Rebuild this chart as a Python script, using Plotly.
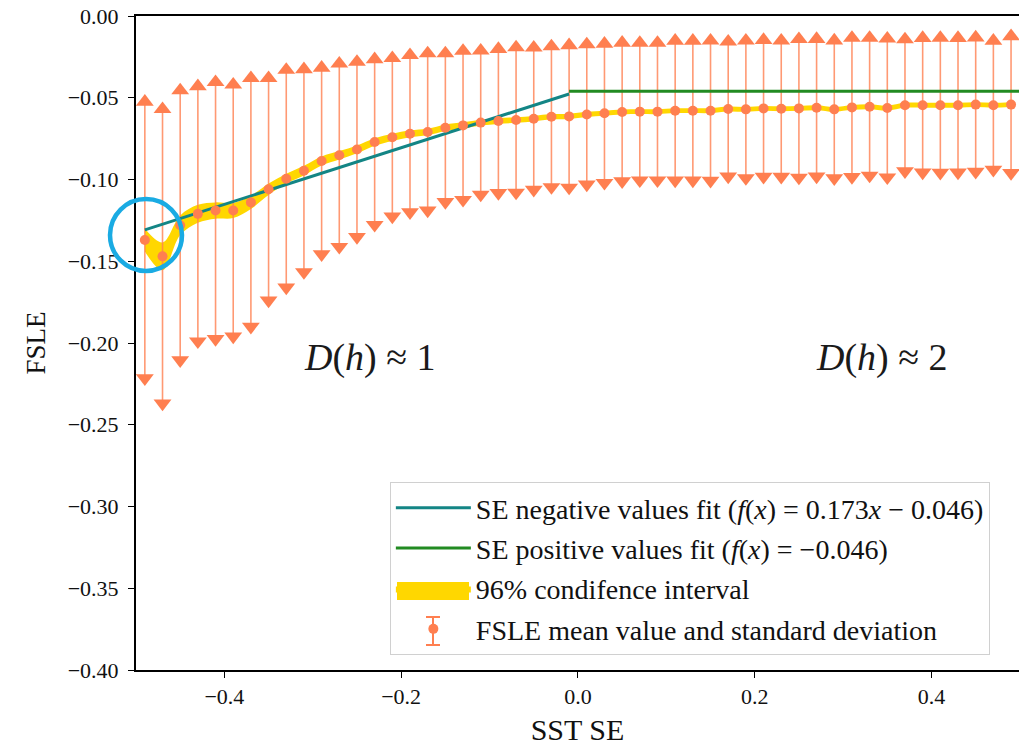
import plotly.graph_objects as go

# ---------------- data ----------------
sst_se = [-0.49, -0.47, -0.45, -0.43, -0.41, -0.39, -0.37, -0.35, -0.33, -0.31,
          -0.29, -0.27, -0.25, -0.23, -0.21, -0.19, -0.17, -0.15, -0.13, -0.11,
          -0.09, -0.07, -0.05, -0.03, -0.01, 0.01, 0.03, 0.05, 0.07, 0.09,
          0.11, 0.13, 0.15, 0.17, 0.19, 0.21, 0.23, 0.25, 0.27, 0.29,
          0.31, 0.33, 0.35, 0.37, 0.39, 0.41, 0.43, 0.45, 0.47, 0.49]

fsle_mean = [-0.137, -0.147, -0.128, -0.121, -0.119, -0.119, -0.114, -0.106, -0.0995, -0.0946,
             -0.0887, -0.0852, -0.0816, -0.0771, -0.0742, -0.0720, -0.0709, -0.0683, -0.0669, -0.0652,
             -0.0642, -0.0636, -0.0628, -0.0616, -0.0614, -0.0602, -0.0595, -0.0587, -0.0585, -0.0585,
             -0.0579, -0.0579, -0.0579, -0.0569, -0.0571, -0.0565, -0.0567, -0.0565, -0.0561, -0.0571,
             -0.0559, -0.0555, -0.0563, -0.0546, -0.0546, -0.0546, -0.0546, -0.0542, -0.0546, -0.0542]

fsle_std = [0.0845, 0.090, 0.0825, 0.078, 0.0785, 0.077, 0.076, 0.068, 0.0665, 0.062,
            0.057, 0.056, 0.0535, 0.0506, 0.0484, 0.048, 0.048, 0.0454, 0.0455, 0.044,
            0.044, 0.0444, 0.0434, 0.043, 0.0435, 0.0428, 0.0425, 0.0423, 0.042, 0.042,
            0.0427, 0.0427, 0.0428, 0.0412, 0.042, 0.0418, 0.0416, 0.0423, 0.042, 0.0421,
            0.0425, 0.0421, 0.0424, 0.0403, 0.0411, 0.0412, 0.0411, 0.041, 0.0394, 0.0418]

ci_half = [0.007, 0.0085, 0.006, 0.0055, 0.005, 0.0046, 0.004, 0.0035, 0.003, 0.003,
           0.0028, 0.0026, 0.0024, 0.0023, 0.0022, 0.0021, 0.002, 0.002, 0.0019, 0.0018,
           0.0018, 0.0017, 0.0017, 0.0016, 0.0016, 0.0016, 0.0015, 0.0015, 0.0015, 0.0015,
           0.0015, 0.0015, 0.0015, 0.0015, 0.0015, 0.0015, 0.0015, 0.0015, 0.0015, 0.0015,
           0.0015, 0.0015, 0.0015, 0.0015, 0.0015, 0.0015, 0.0015, 0.0015, 0.0015, 0.0015]

neg_fit_x = [-0.49, -0.01]
neg_fit_y = [-0.1308, -0.0477]
pos_fit_x = [-0.01, 0.50]
pos_fit_y = [-0.046, -0.046]

x_ticks = [-0.4, -0.2, 0.0, 0.2, 0.4]
y_ticks = [0.0, -0.05, -0.10, -0.15, -0.20, -0.25, -0.30, -0.35, -0.40]

CORAL = "#FF7F50"
TEAL = "#138585"
GREEN = "#228B22"
GOLD = "#FFD700"
FONT = "Liberation Serif"

upper = [m + s for m, s in zip(fsle_mean, fsle_std)]
lower = [m - s for m, s in zip(fsle_mean, fsle_std)]
ci_up = [m + c for m, c in zip(fsle_mean, ci_half)]
ci_lo = [m - c for m, c in zip(fsle_mean, ci_half)]

fig = go.Figure()

# confidence band
fig.add_trace(go.Scatter(x=sst_se, y=ci_up, mode="lines", line=dict(width=0, color=GOLD),
                         line_shape="spline", showlegend=False, legendgroup="c", hoverinfo="skip"))
fig.add_trace(go.Scatter(x=sst_se, y=ci_lo, mode="lines", line=dict(width=0, color=GOLD),
                         line_shape="spline", fill="tonexty", fillcolor=GOLD,
                         name="96% condifence interval", legendgroup="c", legendrank=3))

# error bars
fig.add_trace(go.Scatter(x=sst_se, y=fsle_mean, mode="markers", marker=dict(size=0.1, color=CORAL),
                         error_y=dict(type="data", array=fsle_std, visible=True, color="rgba(255,127,80,0.8)",
                                      thickness=1.6, width=0),
                         showlegend=False, hoverinfo="skip"))
fig.add_trace(go.Scatter(x=sst_se, y=upper, mode="markers",
                         marker=dict(symbol="triangle-up", size=15.5, color=CORAL), showlegend=False))
fig.add_trace(go.Scatter(x=sst_se, y=lower, mode="markers",
                         marker=dict(symbol="triangle-down", size=15.5, color=CORAL), showlegend=False))

# fits
fig.add_trace(go.Scatter(x=neg_fit_x, y=neg_fit_y, mode="lines", line=dict(color=TEAL, width=3),
                         name="SE negative values fit (<i>f</i>(<i>x</i>) = 0.173<i>x</i> − 0.046)",
                         legendgroup="a", legendrank=1))
fig.add_trace(go.Scatter(x=pos_fit_x, y=pos_fit_y, mode="lines", line=dict(color=GREEN, width=3),
                         name="SE positive values fit (<i>f</i>(<i>x</i>) = −0.046)",
                         legendgroup="b", legendrank=2))

# means
fig.add_trace(go.Scatter(x=sst_se, y=fsle_mean, mode="markers", marker=dict(size=10, color=CORAL),
                         name="FSLE mean value and standard deviation", legendgroup="d", legendrank=4))

# annotations
fig.add_annotation(x=-0.235, y=-0.2086, text="<i>D</i>(<i>h</i>) ≈ 1", showarrow=False,
                   font=dict(family=FONT, size=38, color="#1a1a1a"))
fig.add_annotation(x=0.344, y=-0.2086, text="<i>D</i>(<i>h</i>) ≈ 2", showarrow=False,
                   font=dict(family=FONT, size=38, color="#1a1a1a"))

# pixel -> paper helpers
L, R, T, B = 136, 1019, 16, 670
def px2paper_x(px):
    return (px - L) / (R - L)
def px2paper_y(py):
    return 1 - (py - T) / (B - T)

# highlight circle (paper coords so it is not clipped)
cx, cy, rr = 146, 235, 36
fig.add_shape(type="circle", xref="paper", yref="paper",
              x0=px2paper_x(cx - rr), x1=px2paper_x(cx + rr),
              y0=px2paper_y(cy + rr), y1=px2paper_y(cy - rr),
              line=dict(color="#1AABE3", width=4.5))

# legend glyph helpers (drawn beneath the transparent legend)
gx = 433
fig.add_shape(type="rect", xref="paper", yref="paper",
              x0=px2paper_x(gx - 36), x1=px2paper_x(gx + 36), y0=px2paper_y(600), y1=px2paper_y(582),
              fillcolor=GOLD, line=dict(width=0))
fig.add_shape(type="line", xref="paper", yref="paper",
              x0=px2paper_x(gx), x1=px2paper_x(gx), y0=px2paper_y(645), y1=px2paper_y(617),
              line=dict(color=CORAL, width=2))
for yy in (617, 645):
    fig.add_shape(type="line", xref="paper", yref="paper",
                  x0=px2paper_x(gx - 7), x1=px2paper_x(gx + 7), y0=px2paper_y(yy), y1=px2paper_y(yy),
                  line=dict(color=CORAL, width=2))

fig.update_layout(
    width=1019, height=751,
    margin=dict(l=136, r=0, t=16, b=81),
    plot_bgcolor="white", paper_bgcolor="white",
    font=dict(family=FONT, size=22, color="#111"),
    legend=dict(x=0.967, y=0.023, xanchor="right", yanchor="bottom",
                bgcolor="rgba(255,255,255,0)", bordercolor="#d0d0d0", borderwidth=1,
                font=dict(family=FONT, size=28), traceorder="grouped", tracegroupgap=1,
                itemwidth=75),
    xaxis=dict(range=[-0.5, 0.499], tickvals=x_ticks, tickformat=".1f",
               showline=True, linecolor="black", linewidth=2, mirror=True,
               ticks="outside", ticklen=6, tickcolor="black", showgrid=False, zeroline=False,
               title=dict(text="SST SE", font=dict(size=30), standoff=11)),
    yaxis=dict(range=[-0.4, 0.0], tickvals=y_ticks, tickformat=".2f",
               showline=True, linecolor="black", linewidth=2, mirror=False,
               ticks="outside", ticklen=6, tickcolor="black", showgrid=False, zeroline=False,
               ticklabelstandoff=5,
               title=dict(text="FSLE", font=dict(size=27), standoff=14)),
)

fig.write_html("out.html")
